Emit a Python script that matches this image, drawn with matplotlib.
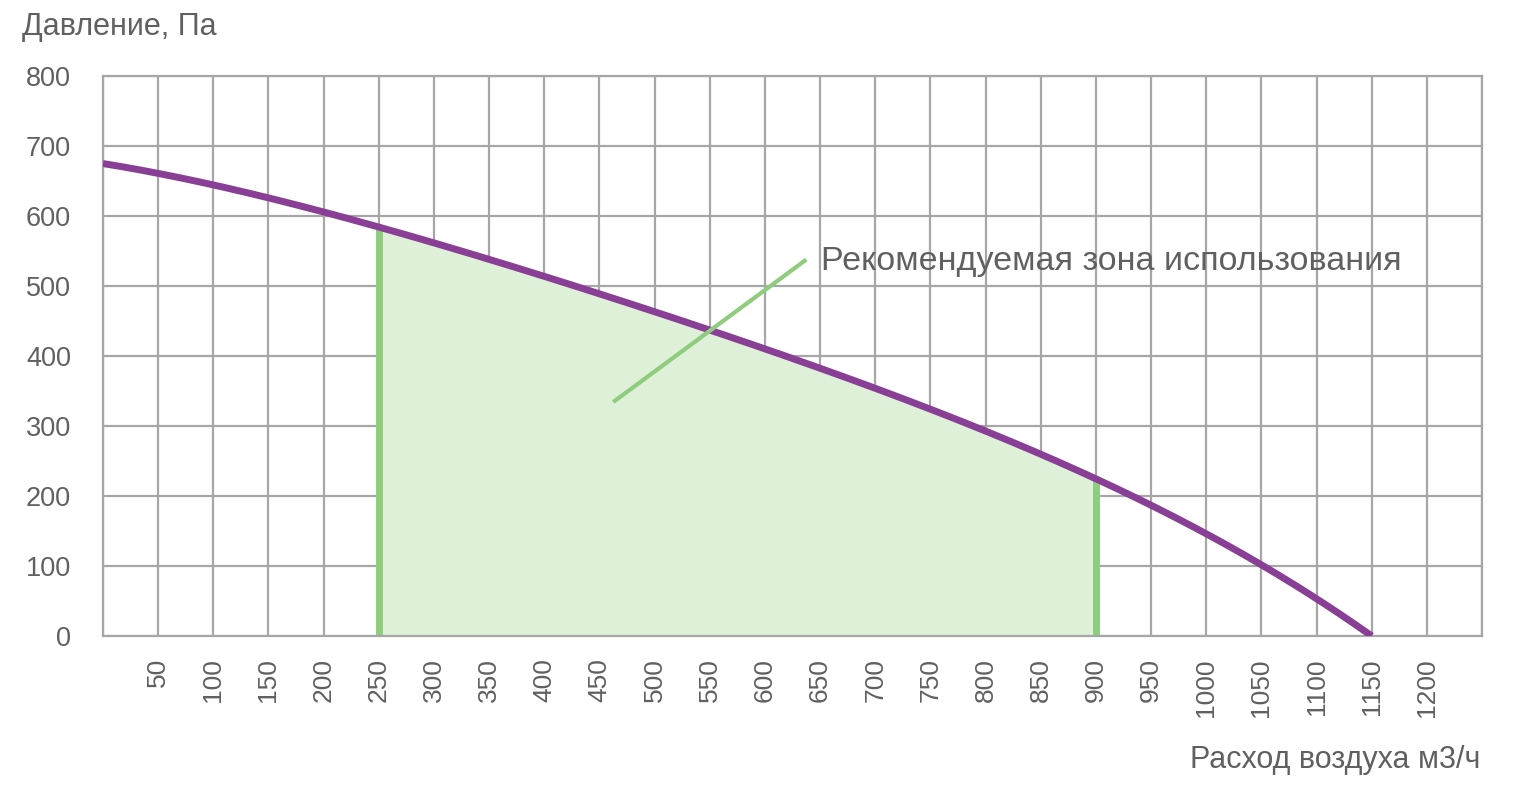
import numpy as np
import matplotlib
matplotlib.use('Agg')
import matplotlib.pyplot as plt
from numpy.polynomial import polynomial as P

plt.rcParams['font.family'] = ['Liberation Sans', 'DejaVu Sans']

# кривая вентилятора (чтение с картинки)
flow = [0, 50, 100, 150, 200, 250, 300, 350, 400, 450, 500, 550,
        600, 650, 700, 750, 800, 850, 900, 950, 1000, 1050, 1100, 1150]
pressure = [674, 661, 648, 625, 604, 582, 562, 537, 516, 490, 463, 438,
            410, 383, 353, 322, 292, 261, 224, 188, 147, 101, 53, 0]

zone = (250, 900)
x_ticks = list(range(50, 1250, 50))
y_ticks = list(range(0, 900, 100))

purple = '#8a3f96'
green = '#8fcd7e'
green_fill = '#dff0d8'
grid_c = '#a6a6a6'
text_c = '#606060'

fig = plt.figure(figsize=(15.2, 7.91), dpi=100)
ax = fig.add_axes([103/1520, 1-636/791, (1482-103)/1520, (636-76)/791])

ax.set_xlim(0, 1250)
ax.set_ylim(0, 800)
ax.set_xticks(list(range(0, 1300, 50)))
ax.set_xticklabels([''] + [str(v) for v in x_ticks] + [''], rotation=90,
                   fontsize=19, color=text_c)
ax.set_yticks(y_ticks)
ax.set_yticklabels([str(v) for v in y_ticks], fontsize=19.5, color=text_c)
ax.tick_params(length=0)
ax.tick_params(axis='y', pad=23)
ax.tick_params(axis='x', pad=16)
ax.grid(True, color=grid_c, linewidth=1.6)
for s in ax.spines.values():
    s.set_color(grid_c)
    s.set_linewidth(1.6)
ax.set_axisbelow(True)

# сглаженная кривая по прочитанным точкам
fx = np.array(flow, dtype=float)
fy = np.array(pressure, dtype=float)
coef = P.polyfit(fx, fy, 4)
xs = np.linspace(0, 1150, 600)
ys = P.polyval(xs, coef)

m = (xs >= zone[0]) & (xs <= zone[1])
ax.fill_between(xs[m], 0, ys[m], color=green_fill, zorder=1, linewidth=0)
for zx in zone:
    ax.plot([zx, zx], [0, P.polyval(zx, coef)], color=green, linewidth=5,
            solid_capstyle='butt', zorder=2)

ax.plot(xs, ys, color=purple, linewidth=5, solid_capstyle='butt', zorder=3)

ax.plot([464, 636], [336, 536], color=green, linewidth=3, zorder=4)
ax.text(651, 535, 'Рекомендуемая зона использования', fontsize=24.5,
        color=text_c, va='center', ha='left')

fig.text(22/1520, 1-27/791, 'Давление, Па', fontsize=22, color=text_c,
         va='center', ha='left')
fig.text(1480/1520, 1-760/791, 'Расход воздуха м3/ч', fontsize=22,
         color=text_c, va='center', ha='right')

fig.savefig('out.png', dpi=100)
